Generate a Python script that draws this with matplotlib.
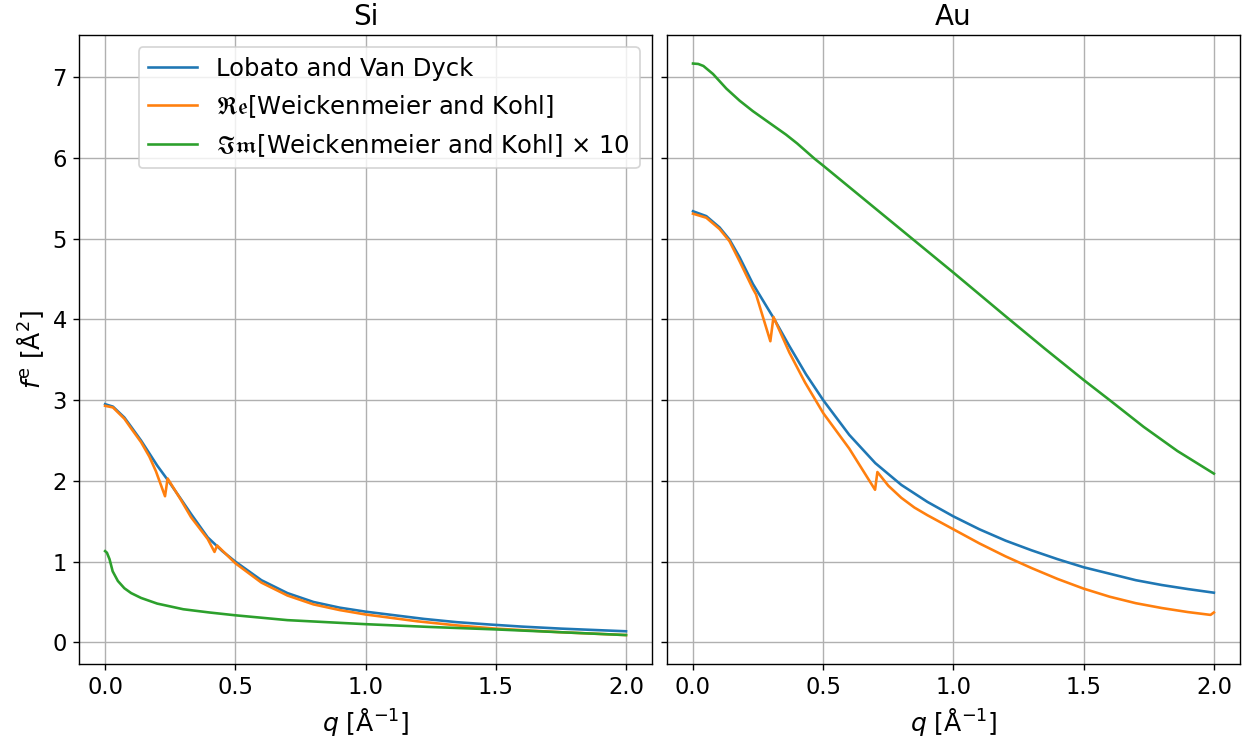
import numpy as np
import matplotlib
matplotlib.use("Agg")
import matplotlib.pyplot as plt

# --- values (q in 1/Å, f_e in Å^2) ---
si_q_lvd = [0, 0.03, 0.074, 0.1, 0.138, 0.17, 0.2, 0.243, 0.29, 0.33, 0.394, 0.45, 0.5,
            0.6, 0.7, 0.8, 0.9, 1.0, 1.1, 1.225, 1.35, 1.48, 1.6, 1.75, 1.9, 2.0]
si_f_lvd = [2.95, 2.92, 2.785, 2.67, 2.50, 2.34, 2.19, 2.0, 1.78, 1.59, 1.30, 1.13, 1.0,
            0.77, 0.61, 0.50, 0.43, 0.38, 0.34, 0.29, 0.25, 0.22, 0.195, 0.17, 0.15, 0.137]

si_q_re = [0, 0.03, 0.074, 0.1, 0.138, 0.17, 0.195, 0.23, 0.24, 0.29, 0.33, 0.394, 0.42, 0.43,
           0.5, 0.6, 0.7, 0.8, 0.9, 1.0, 1.2, 1.35, 1.5, 1.75, 2.0]
si_f_re = [2.93, 2.91, 2.77, 2.65, 2.48, 2.30, 2.12, 1.81, 2.03, 1.77, 1.55, 1.28, 1.12, 1.20,
           0.98, 0.74, 0.58, 0.47, 0.40, 0.345, 0.26, 0.21, 0.17, 0.125, 0.09]

si_q_im = [0, 0.007, 0.017, 0.029, 0.049, 0.074, 0.1, 0.138, 0.2, 0.3, 0.4, 0.5, 0.7, 1.0,
           1.25, 1.5, 1.75, 2.0]
si_f_im = [1.13, 1.11, 1.03, 0.88, 0.76, 0.67, 0.61, 0.55, 0.48, 0.41, 0.37, 0.335, 0.275, 0.225,
           0.19, 0.16, 0.125, 0.09]

au_q_lvd = [0, 0.051, 0.102, 0.14, 0.179, 0.23, 0.309, 0.37, 0.434, 0.5, 0.6, 0.7, 0.8, 0.9,
            1.0, 1.1, 1.2, 1.3, 1.4, 1.5, 1.6, 1.7, 1.8, 1.9, 2.0]
au_f_lvd = [5.34, 5.28, 5.14, 4.99, 4.77, 4.44, 4.02, 3.67, 3.32, 3.0, 2.57, 2.22, 1.95, 1.74,
            1.56, 1.40, 1.26, 1.14, 1.03, 0.93, 0.85, 0.77, 0.71, 0.66, 0.615]

au_q_re = [0, 0.051, 0.102, 0.14, 0.179, 0.23, 0.242, 0.297, 0.309, 0.37, 0.43, 0.5, 0.6, 0.699,
           0.708, 0.75, 0.8, 0.85, 0.9, 1.0, 1.1, 1.2, 1.3, 1.4, 1.5, 1.6, 1.7, 1.8, 1.9,
           1.987, 2.0]
au_f_re = [5.31, 5.26, 5.12, 4.97, 4.72, 4.38, 4.31, 3.73, 4.03, 3.59, 3.22, 2.84, 2.40, 1.89,
           2.11, 1.94, 1.79, 1.67, 1.575, 1.40, 1.225, 1.065, 0.92, 0.785, 0.665, 0.565, 0.485,
           0.425, 0.375, 0.34, 0.37]

au_q_im = [0, 0.02, 0.04, 0.077, 0.128, 0.179, 0.23, 0.3, 0.357, 0.4, 0.467, 0.5, 0.6, 0.7,
           0.8, 0.9, 1.0, 1.1, 1.2, 1.35, 1.5, 1.6, 1.73, 1.86, 2.0]
au_f_im = [7.17, 7.165, 7.14, 7.04, 6.86, 6.71, 6.58, 6.42, 6.29, 6.18, 5.99, 5.905, 5.64, 5.375,
           5.11, 4.845, 4.58, 4.31, 4.04, 3.64, 3.25, 3.0, 2.67, 2.37, 2.09]

labels = ["Lobato and Van Dyck",
          r"$\mathfrak{Re}$[Weickenmeier and Kohl]",
          r"$\mathfrak{Im}$[Weickenmeier and Kohl] $\times$ 10"]

panels = [
    ("Si", (si_q_lvd, si_f_lvd), (si_q_re, si_f_re), (si_q_im, si_f_im)),
    ("Au", (au_q_lvd, au_f_lvd), (au_q_re, au_f_re), (au_q_im, au_f_im)),
]

plt.rcParams["xtick.labelsize"] = 13
plt.rcParams["ytick.labelsize"] = 13

fig, axes = plt.subplots(1, 2, figsize=(10.04, 5.952), dpi=125, sharey=True)
fig.subplots_adjust(left=0.063, right=0.988, top=0.953, bottom=0.108, wspace=0.026)

for ax, (name, lvd, re, im) in zip(axes, panels):
    ax.plot(*lvd, label=labels[0])
    ax.plot(*re, label=labels[1])
    ax.plot(*im, label=labels[2])
    ax.set_title(name, fontsize=16)
    ax.set_xlabel(r"$q$ [Å$^{-1}$]", fontsize=14.5)
    ax.set_xticks([0.0, 0.5, 1.0, 1.5, 2.0])
    ax.grid(True)

axes[0].set_ylabel(r"$f^\mathrm{e}$ [Å$^2$]", fontsize=14.5)
axes[0].legend(loc="upper right", fontsize=14)

fig.savefig("out.png", dpi=125)
